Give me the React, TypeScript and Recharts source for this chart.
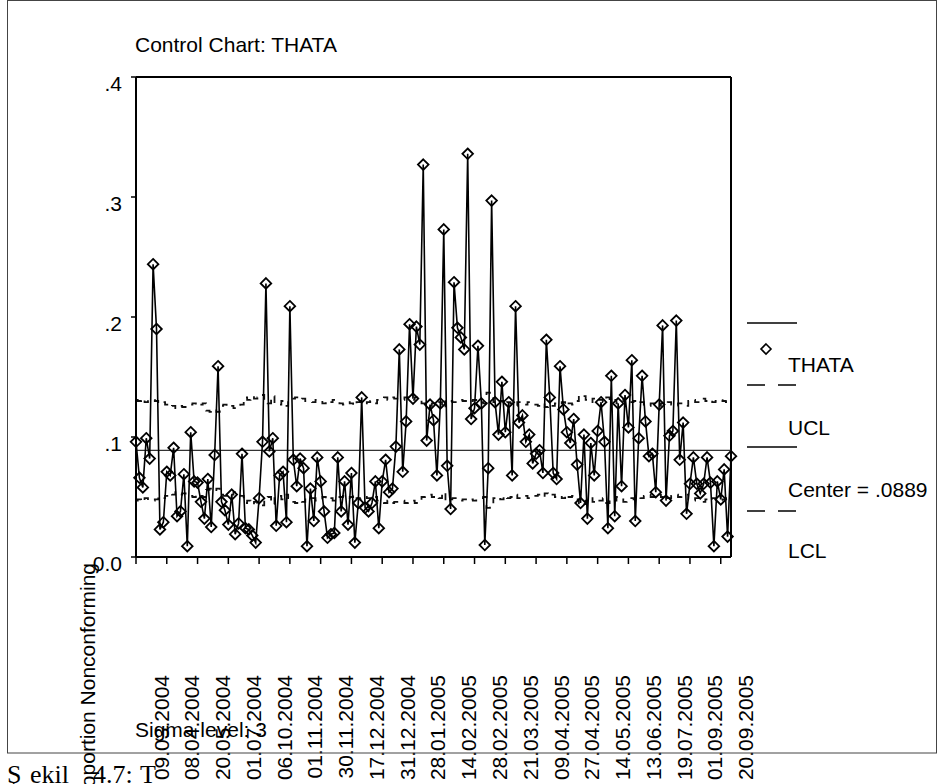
import React from 'react';
import { LineChart, Line, XAxis, YAxis, ReferenceLine } from 'recharts';

const FONT = '"Liberation Sans", Arial, Helvetica, sans-serif';

const THATA = [
  0.096, 0.066, 0.058, 0.099, 0.082, 0.244, 0.190, 0.023, 0.029, 0.071,
  0.068, 0.091, 0.034, 0.038, 0.069, 0.009, 0.104, 0.063, 0.062, 0.046,
  0.032, 0.065, 0.025, 0.085, 0.159, 0.046, 0.039, 0.027, 0.052, 0.019,
  0.028, 0.086, 0.024, 0.023, 0.018, 0.012, 0.049, 0.096, 0.228, 0.088,
  0.099, 0.026, 0.068, 0.071, 0.029, 0.209, 0.081, 0.059, 0.082, 0.074,
  0.009, 0.057, 0.030, 0.083, 0.063, 0.038, 0.016, 0.019, 0.020, 0.083,
  0.038, 0.063, 0.027, 0.070, 0.012, 0.045, 0.133, 0.041, 0.038, 0.045,
  0.063, 0.024, 0.063, 0.081, 0.054, 0.057, 0.092, 0.173, 0.071, 0.113,
  0.194, 0.132, 0.192, 0.177, 0.327, 0.097, 0.127, 0.114, 0.068, 0.128,
  0.273, 0.076, 0.040, 0.229, 0.191, 0.183, 0.173, 0.336, 0.115, 0.124,
  0.176, 0.128, 0.010, 0.074, 0.297, 0.129, 0.102, 0.146, 0.104, 0.129,
  0.068, 0.209, 0.112, 0.118, 0.096, 0.102, 0.078, 0.086, 0.089, 0.070,
  0.181, 0.133, 0.070, 0.065, 0.159, 0.123, 0.104, 0.095, 0.115, 0.077,
  0.045, 0.102, 0.032, 0.095, 0.068, 0.105, 0.129, 0.096, 0.024, 0.151,
  0.034, 0.128, 0.059, 0.135, 0.108, 0.164, 0.030, 0.099, 0.151, 0.113,
  0.084, 0.086, 0.054, 0.127, 0.193, 0.047, 0.101, 0.105, 0.197, 0.081,
  0.112, 0.036, 0.061, 0.083, 0.061, 0.053, 0.061, 0.083, 0.062, 0.009,
  0.063, 0.048, 0.073, 0.017, 0.084,
];

const UCL = [
  0.131, 0.130, 0.132, 0.129, 0.131,
  0.131, 0.130, 0.128, 0.129, 0.127,
  0.125, 0.126, 0.124, 0.126, 0.125, 0.126,
  0.127, 0.128, 0.126, 0.127, 0.128,
  0.122, 0.121, 0.123, 0.121,
  0.126, 0.127, 0.125, 0.126, 0.124, 0.126, 0.127,
  0.133, 0.131, 0.134, 0.132, 0.133, 0.135,
  0.131, 0.128, 0.134, 0.129, 0.127, 0.130, 0.126, 0.129,
  0.132, 0.133, 0.131, 0.132, 0.130,
  0.130, 0.129, 0.131, 0.130, 0.128, 0.130, 0.129, 0.131, 0.130,
  0.128, 0.127, 0.129, 0.128, 0.126,
  0.129, 0.130, 0.128, 0.129, 0.130, 0.128,
  0.131, 0.132, 0.133, 0.131, 0.133, 0.132,
  0.132, 0.131, 0.133, 0.132, 0.131, 0.133, 0.132,
  0.128, 0.127, 0.126, 0.128, 0.127, 0.129, 0.124,
  0.131, 0.130, 0.129, 0.130, 0.131, 0.130, 0.129, 0.130, 0.131, 0.130,
  0.129, 0.128, 0.137, 0.136,
  0.129, 0.128, 0.130, 0.127, 0.129, 0.128, 0.126, 0.129, 0.128, 0.127, 0.129, 0.128,
  0.127, 0.126, 0.128, 0.125, 0.127, 0.126, 0.128, 0.127, 0.129, 0.126, 0.128, 0.127,
  0.130, 0.135, 0.134,
  0.131, 0.129, 0.132, 0.130, 0.131, 0.129, 0.133, 0.130, 0.131, 0.128, 0.130, 0.132, 0.130,
  0.129, 0.130, 0.128, 0.129,
  0.127, 0.126, 0.128, 0.127, 0.126, 0.128, 0.127, 0.129, 0.127, 0.126, 0.128, 0.127, 0.126,
  0.130, 0.131, 0.129, 0.130, 0.132, 0.130, 0.131, 0.129, 0.130, 0.131, 0.130, 0.129, 0.131,
];

const LCL = [
  0.047, 0.048, 0.046, 0.049, 0.047,
  0.047, 0.048, 0.050, 0.049, 0.051,
  0.053, 0.052, 0.054, 0.052, 0.053, 0.052,
  0.051, 0.050, 0.052, 0.051, 0.050,
  0.056, 0.057, 0.055, 0.057,
  0.052, 0.051, 0.053, 0.052, 0.054, 0.052, 0.051,
  0.045, 0.047, 0.044, 0.046, 0.045, 0.043,
  0.047, 0.050, 0.044, 0.049, 0.051, 0.048, 0.052, 0.049,
  0.046, 0.045, 0.047, 0.046, 0.048,
  0.048, 0.049, 0.047, 0.048, 0.050, 0.048, 0.049, 0.047, 0.048,
  0.050, 0.051, 0.049, 0.050, 0.052,
  0.049, 0.048, 0.050, 0.049, 0.048, 0.050,
  0.047, 0.046, 0.045, 0.047, 0.045, 0.046,
  0.046, 0.047, 0.045, 0.046, 0.047, 0.045, 0.046,
  0.050, 0.051, 0.052, 0.050, 0.051, 0.049, 0.054,
  0.047, 0.048, 0.049, 0.048, 0.047, 0.048, 0.049, 0.048, 0.047, 0.048,
  0.049, 0.050, 0.041, 0.042,
  0.049, 0.050, 0.048, 0.051, 0.049, 0.050, 0.052, 0.049, 0.050, 0.051, 0.049, 0.050,
  0.051, 0.052, 0.050, 0.053, 0.051, 0.052, 0.050, 0.051, 0.049, 0.052, 0.050, 0.051,
  0.048, 0.043, 0.044,
  0.047, 0.049, 0.046, 0.048, 0.047, 0.049, 0.045, 0.048, 0.047, 0.050, 0.048, 0.046, 0.048,
  0.049, 0.048, 0.050, 0.049,
  0.051, 0.052, 0.050, 0.051, 0.052, 0.050, 0.051, 0.049, 0.051, 0.052, 0.050, 0.051, 0.052,
  0.048, 0.047, 0.049, 0.048, 0.046, 0.048, 0.047, 0.049, 0.048, 0.047, 0.048, 0.049, 0.047,
];

const CENTER = 0.0889;

const TICK_DATES = [
  '09.03.2004', '08.04.2004', '20.05.2004', '01.07.2004', '06.10.2004',
  '01.11.2004', '30.11.2004', '17.12.2004', '31.12.2004', '28.01.2005',
  '14.02.2005', '28.02.2005', '21.03.2005', '09.04.2005', '27.04.2005',
  '14.05.2005', '13.06.2005', '19.07.2005', '01.09.2005', '20.09.2005',
];
const TICK_EVERY = 9;

const Y_TICKS = [0, 0.1, 0.2, 0.3, 0.4];
const Y_TICK_LABELS = ['0.0', '.1', '.2', '.3', '.4'];

const data = THATA.map((v, i) => ({ idx: i, thata: v, ucl: UCL[i], lcl: LCL[i] }));

const XTick = (props: any) => {
  const { x, y, payload } = props;
  const label = TICK_DATES[Math.round(payload.value / TICK_EVERY)] ?? '';
  return (
    <text
      transform={`translate(${x + 25},${y + 109}) rotate(-90)`}
      textAnchor="end"
      dominantBaseline="central"
      fontSize={21}
      fontFamily={FONT}
      fill="#000"
    >
      {label}
    </text>
  );
};

const YTick = (props: any) => {
  const { x, y, index } = props;
  return (
    <text x={x} y={y + 6} textAnchor="end" dominantBaseline="central" fontSize={21} fontFamily={FONT} fill="#000">
      {Y_TICK_LABELS[index]}
    </text>
  );
};

const Diamond = (props: any) => {
  const { cx, cy, index } = props;
  if (cx == null || cy == null) return <g key={`d${index}`} />;
  const r = 5.3;
  return (
    <path
      key={`d${index}`}
      d={`M${cx},${cy - r}L${cx + r},${cy}L${cx},${cy + r}L${cx - r},${cy}Z`}
      fill="none"
      stroke="#000"
      strokeWidth={1.8}
    />
  );
};

export default function App() {
  const txt = { fontFamily: FONT, fontSize: 21, fill: '#000' } as const;
  return (
    <div style={{ position: 'absolute', left: 0, top: 0, width: 937, height: 784, overflow: 'hidden', background: '#fff' }}>
      <div style={{ position: 'absolute', left: 0, top: 0 }}>
        <LineChart width={937} height={784} data={data} margin={{ top: 77, right: 206, bottom: 187, left: 96 }}>
          <XAxis
            dataKey="idx"
            type="category"
            scale="point"
            interval={TICK_EVERY - 1}
            height={40}
            tickSize={7}
            tick={<XTick />}
            axisLine={{ stroke: '#000', strokeWidth: 2 }}
            tickLine={{ stroke: '#000', strokeWidth: 1.5 }}
            padding={{ left: 0, right: 0 }}
          />
          <YAxis
            type="number"
            domain={[0, 0.4]}
            ticks={Y_TICKS}
            width={40}
            tickSize={5}
            tickMargin={9}
            tick={<YTick />}
            axisLine={{ stroke: '#000', strokeWidth: 2 }}
            tickLine={{ stroke: '#000', strokeWidth: 1.5 }}
            allowDataOverflow
          />
          <ReferenceLine y={0.4} stroke="#000" strokeWidth={2} />
          <ReferenceLine x={THATA.length - 1} stroke="#000" strokeWidth={2} />
          <ReferenceLine y={CENTER} stroke="#333" strokeWidth={1.2} />
          <Line type="step" dataKey="ucl" stroke="#111" strokeWidth={1.8} strokeDasharray="7 7" dot={false} isAnimationActive={false} />
          <Line type="step" dataKey="lcl" stroke="#111" strokeWidth={1.8} strokeDasharray="7 7" dot={false} isAnimationActive={false} />
          <Line type="linear" dataKey="thata" stroke="#000" strokeWidth={1.6} dot={(p: any) => <Diamond key={`d${p.index}`} {...p} />} isAnimationActive={false} />
        </LineChart>
      </div>
      <svg style={{ position: 'absolute', left: 0, top: 0, pointerEvents: 'none' }} width={937} height={784}>
        <rect x={7.5} y={0.5} width={929} height={752.5} fill="none" stroke="#444" strokeWidth={1} />
        <text x={135} y={52} {...txt}>Control Chart: THATA</text>
        <text transform="translate(95,563) rotate(-90)" textAnchor="end" {...txt}>Proportion Nonconforming</text>
        <text x={135} y={737} {...txt}>Sigma level: 3</text>
        <line x1={747} x2={797} y1={323} y2={323} stroke="#000" strokeWidth={1.6} />
        <path d="M766,344L771,349L766,354L761,349Z" fill="none" stroke="#000" strokeWidth={1.6} />
        <text x={788} y={372} {...txt}>THATA</text>
        <line x1={747} x2={797} y1={385} y2={385} stroke="#000" strokeWidth={1.6} strokeDasharray="18 13" />
        <text x={788} y={435} {...txt}>UCL</text>
        <line x1={747} x2={797} y1={447} y2={447} stroke="#000" strokeWidth={1.6} />
        <text x={788} y={497} {...txt}>Center = .0889</text>
        <line x1={747} x2={797} y1={511} y2={511} stroke="#000" strokeWidth={1.6} strokeDasharray="18 13" />
        <text x={788} y={558} {...txt}>LCL</text>
        <g fontFamily='"Liberation Serif", "Times New Roman", serif' fontSize={26} fill="#000">
          <text x={7} y={783}>Ş</text>
          <text x={30} y={783}>ekil</text>
          <text x={93} y={783}>4.7:</text>
          <text x={140} y={783}>T</text>
        </g>
      </svg>
    </div>
  );
}
